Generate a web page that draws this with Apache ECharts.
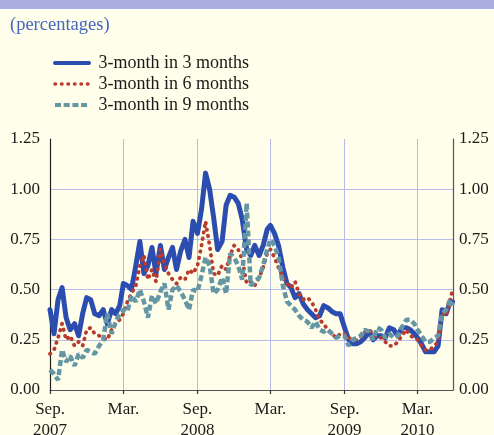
<!DOCTYPE html>
<html>
<head>
<meta charset="utf-8">
<script src="https://cdn.jsdelivr.net/npm/echarts@6/dist/echarts.min.js"></script>
<style>
html,body{margin:0;padding:0;background:#fffeea;}
#chart{width:494px;height:435px;}
</style>
</head>
<body>
<div id="chart"></div>
<script>
// Observation dates (roughly every ten days)
const dates = [
 '2007-09-01','2007-09-11','2007-09-21','2007-10-01','2007-10-11','2007-10-21','2007-11-01','2007-11-11','2007-11-21','2007-12-01','2007-12-11','2007-12-21',
 '2008-01-01','2008-01-11','2008-01-21','2008-02-01','2008-02-11','2008-02-21','2008-03-01','2008-03-11','2008-03-21','2008-04-01','2008-04-11','2008-04-21',
 '2008-05-01','2008-05-11','2008-05-21','2008-06-01','2008-06-11','2008-06-21','2008-07-01','2008-07-11','2008-07-21','2008-08-01','2008-08-11','2008-08-21',
 '2008-09-01','2008-09-11','2008-09-21','2008-10-01','2008-10-11','2008-10-21','2008-11-01','2008-11-11','2008-11-21','2008-12-01','2008-12-11','2008-12-21',
 '2009-01-01','2009-01-11','2009-01-21','2009-02-01','2009-02-11','2009-02-21','2009-03-01','2009-03-11','2009-03-21','2009-04-01','2009-04-11','2009-04-21',
 '2009-05-01','2009-05-11','2009-05-21','2009-06-01','2009-06-11','2009-06-21','2009-07-01','2009-07-11','2009-07-21','2009-08-01','2009-08-11','2009-08-21',
 '2009-09-01','2009-09-11','2009-09-21','2009-10-01','2009-10-11','2009-10-21','2009-11-01','2009-11-11','2009-11-21','2009-12-01','2009-12-11','2009-12-21',
 '2010-01-01','2010-01-11','2010-01-21','2010-02-01','2010-02-11','2010-02-21','2010-03-01','2010-03-11','2010-03-21','2010-04-01','2010-04-11','2010-04-21',
 '2010-05-01','2010-05-11','2010-05-21','2010-05-27'
];

const threeIn3 = [
 0.40,0.28,0.45, 0.51,0.36,0.30, 0.33,0.27,0.38, 0.46,0.45,0.38,
 0.37,0.40,0.33, 0.40,0.38,0.42, 0.53,0.52,0.50, 0.62,0.74,0.58,
 0.62,0.71,0.58, 0.72,0.60,0.66, 0.71,0.60,0.69, 0.75,0.66,0.84,
 0.78,0.90,1.08, 1.00,0.86,0.70, 0.74,0.92,0.97, 0.96,0.93,0.85,
 0.70,0.67,0.72, 0.67,0.72,0.80, 0.82,0.78,0.72, 0.61,0.53,0.51,
 0.46,0.48,0.43, 0.40,0.38,0.36, 0.37,0.42,0.41, 0.39,0.38,0.38,
 0.31,0.25,0.23, 0.23,0.24,0.26, 0.29,0.25,0.27, 0.27,0.26,0.31,
 0.30,0.27,0.31, 0.31,0.30,0.28, 0.26,0.23,0.19, 0.19,0.19,0.22,
 0.40,0.38,0.44,0.44
];

const threeIn6 = [
 0.18,0.20,0.26, 0.33,0.25,0.27, 0.22,0.24,0.22, 0.30,0.31,0.28,
 0.27,0.26,0.25, 0.30,0.33,0.35, 0.38,0.44,0.48, 0.52,0.62,0.67,
 0.55,0.60,0.54, 0.70,0.63,0.58, 0.55,0.53,0.56, 0.55,0.60,0.58,
 0.62,0.72,0.84, 0.72,0.58,0.57, 0.62,0.60,0.67, 0.72,0.70,0.65,
 0.53,0.54,0.52, 0.56,0.61,0.68, 0.70,0.66,0.61, 0.56,0.53,0.51,
 0.54,0.48,0.45, 0.46,0.44,0.40, 0.35,0.33,0.30, 0.28,0.26,0.28,
 0.28,0.26,0.25, 0.25,0.26,0.29, 0.30,0.28,0.26, 0.26,0.24,0.22,
 0.22,0.24,0.27, 0.30,0.27,0.26, 0.25,0.22,0.20, 0.20,0.22,0.24,
 0.38,0.37,0.45,0.50
];

const threeIn9 = [
 0.10,0.08,0.05, 0.20,0.14,0.17, 0.12,0.18,0.16, 0.20,0.19,0.18,
 0.22,0.25,0.38, 0.28,0.34,0.38, 0.40,0.39,0.47, 0.44,0.50,0.44,
 0.36,0.47,0.43, 0.49,0.53,0.40, 0.50,0.52,0.49, 0.45,0.40,0.50,
 0.49,0.57,0.66, 0.62,0.48,0.50, 0.56,0.48,0.68, 0.66,0.62,0.55,
 0.93,0.52,0.54, 0.56,0.62,0.70, 0.75,0.72,0.66, 0.52,0.44,0.42,
 0.40,0.37,0.35, 0.34,0.31,0.34, 0.30,0.29,0.30, 0.28,0.26,0.27,
 0.27,0.22,0.25, 0.26,0.27,0.30, 0.29,0.25,0.31, 0.30,0.26,0.28,
 0.26,0.27,0.31, 0.35,0.35,0.33, 0.30,0.27,0.24, 0.24,0.26,0.27,
 0.38,0.40,0.45,0.42
];

const seriesNames = ['3-month in 3 months','3-month in 6 months','3-month in 9 months'];
const tickDates = ['2007-09-01','2008-03-01','2008-09-01','2009-03-01','2009-09-01','2010-03-01'];
const tickLabels = ['Sep.\n2007','Mar.','Sep.\n2008','Mar.','Sep.\n2009','Mar.\n2010'];
const yTicks = ['0.00','0.25','0.50','0.75','1.00','1.25'];
const xStart = '2007-09-01';
const xEnd = '2010-05-28';

const FONT = 'Liberation Serif';
const ts = d => Date.parse(d + 'T00:00:00Z');
const tickTimes = tickDates.map(ts);
const pair = arr => dates.map((d, i) => [ts(d), arr[i]]);

const chart = echarts.init(document.getElementById('chart'));
const gridColor = '#b7bbea';
const labelColor = '#1a1a1a';
const cBlue = '#2c4db0', cRed = '#b83b2e', cTeal = '#6496a4';

chart.setOption({
  backgroundColor: '#fffeea',
  animation: false,
  title: {
    text: '(percentages)', left: 10, top: 16, padding: 0,
    textStyle: { fontFamily: FONT, fontSize: 18.5, fontWeight: 'normal', color: '#4565c2' }
  },
  graphic: [
    { type: 'rect', left: 0, top: 0, shape: { width: 494, height: 9 }, style: { fill: '#abaee0' } },
    { type: 'rect', left: 0, top: 9, shape: { width: 494, height: 1 }, style: { fill: '#ffffff' } }
  ],
  legend: {
    orient: 'vertical', left: 48, top: 48, itemWidth: 34, itemHeight: 12, itemGap: 1,
    data: [
      { name: seriesNames[0], itemStyle: { opacity: 0 }, lineStyle: { width: 4, color: cBlue, type: 'solid' } },
      { name: seriesNames[1], itemStyle: { opacity: 0 }, lineStyle: { width: 3.5, color: cRed, type: [0.5, 6], cap: 'round' } },
      { name: seriesNames[2], itemStyle: { opacity: 0 }, lineStyle: { width: 4, color: cTeal, type: [6, 2.7], cap: 'butt' } }
    ],
    formatter: n => ' ' + n,
    textStyle: { fontFamily: FONT, fontSize: 18, color: labelColor, lineHeight: 20 }
  },
  grid: { left: 50, right: 41, top: 139, bottom: 45, outerBoundsMode: 'none', containLabel: false },
  xAxis: {
    type: 'value', min: ts(xStart), max: ts(xEnd),
    axisLine: { show: true, lineStyle: { color: '#555', width: 1.2 } },
    axisTick: { show: true, customValues: tickTimes, length: 4, lineStyle: { color: '#333', width: 1.2 } },
    axisLabel: {
      customValues: tickTimes, margin: 9, fontFamily: FONT, fontSize: 17, lineHeight: 21, color: labelColor,
      formatter: v => { const i = tickTimes.indexOf(+v); return i >= 0 ? tickLabels[i] : ''; }
    },
    splitLine: { show: false }
  },
  yAxis: [
    {
      type: 'value', min: 0, max: 1.25, interval: 0.25, position: 'left',
      axisLine: { show: true, lineStyle: { color: '#222', width: 1.2 } },
      axisTick: { show: false },
      axisLabel: { margin: 10, fontFamily: FONT, fontSize: 17, color: labelColor, formatter: v => yTicks[Math.round(v / 0.25)] },
      splitLine: { show: true, lineStyle: { color: [gridColor, gridColor, gridColor, gridColor, gridColor, 'rgba(0,0,0,0)'], width: 1 } }
    },
    {
      type: 'value', min: 0, max: 1.25, interval: 0.25, position: 'right',
      axisLine: { show: true, lineStyle: { color: '#555', width: 1.2 } },
      axisTick: { show: false },
      axisLabel: { margin: 6, fontFamily: FONT, fontSize: 17, color: labelColor, formatter: v => yTicks[Math.round(v / 0.25)] },
      splitLine: { show: false }
    }
  ],
  series: [
    {
      name: seriesNames[0], type: 'line', data: pair(threeIn3), symbol: 'none', z: 3,
      lineStyle: { color: cBlue, width: 5, cap: 'round', join: 'round' },
      itemStyle: { color: cBlue },
      markLine: {
        silent: true, symbol: 'none', label: { show: false }, z: 1,
        lineStyle: { color: gridColor, type: 'solid', width: 1 },
        data: tickTimes.slice(1).map(t => ({ xAxis: t }))
      }
    },
    {
      name: seriesNames[1], type: 'line', data: pair(threeIn6), symbol: 'none', z: 4,
      lineStyle: { color: cRed, width: 3.8, type: [0.5, 6], cap: 'round', join: 'round' },
      itemStyle: { color: cRed }
    },
    {
      name: seriesNames[2], type: 'line', data: pair(threeIn9), symbol: 'none', z: 5,
      lineStyle: { color: cTeal, width: 4.5, type: [6, 3], cap: 'butt' },
      itemStyle: { color: cTeal }
    }
  ]
});
</script>
</body>
</html>
